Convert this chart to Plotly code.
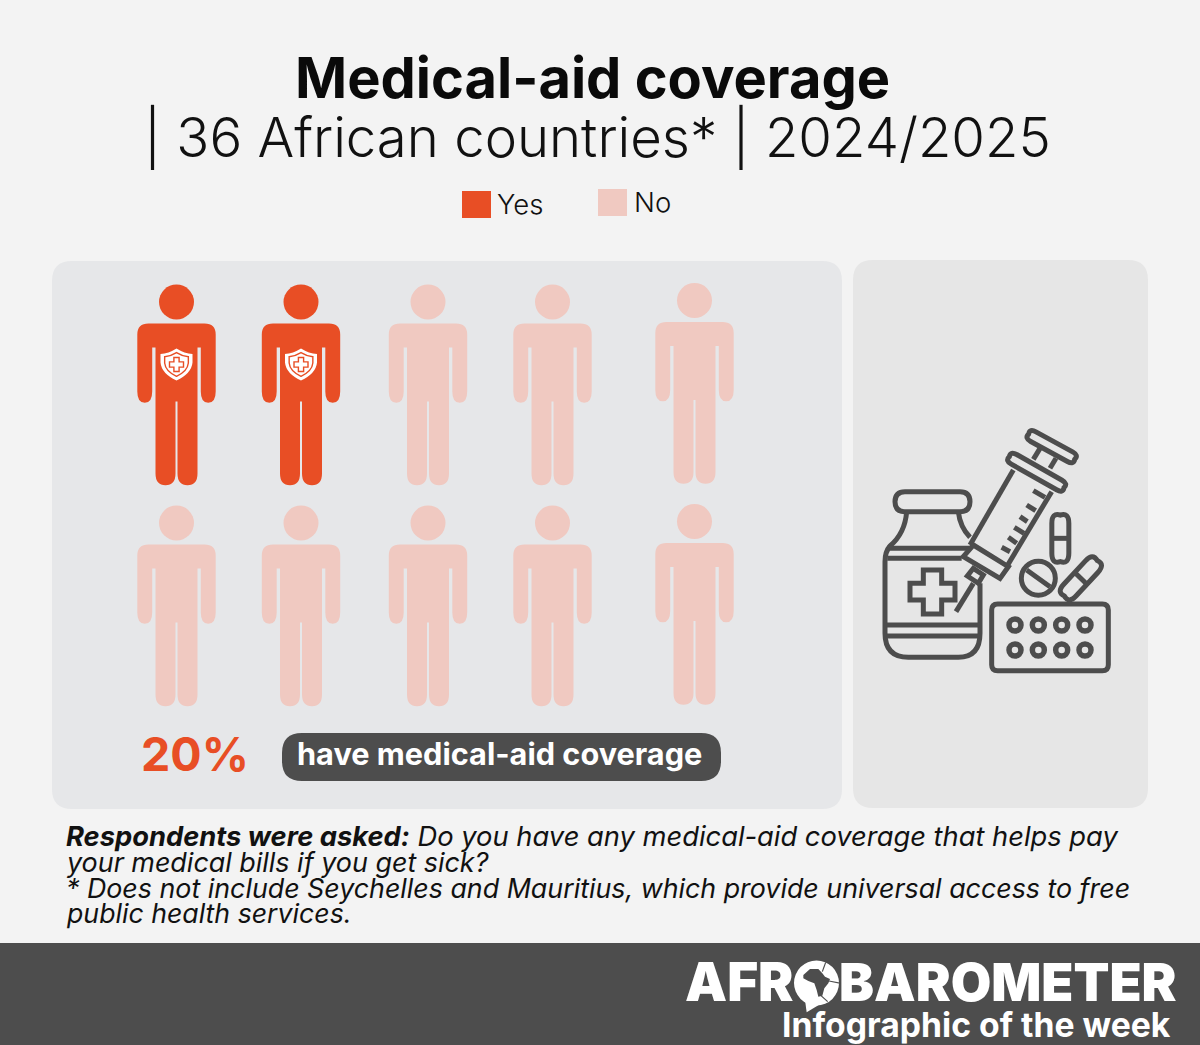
import plotly.graph_objects as go

# values
title = "Medical-aid coverage"
subtitle = "| 36 African countries* | 2024/2025"
legend_labels = ["Yes", "No"]
coverage_pct = 20
people_total = 10
pct_label = "have medical-aid coverage"
note_lines = [
    "<b>Respondents were asked:</b> Do you have any medical-aid coverage that helps pay",
    "your medical bills if you get sick?",
    "* Does not include Seychelles and Mauritius, which provide universal access to free",
    "public health services.",
]

BG = "#f3f3f3"
PANEL_L = "#e6e7e9"
PANEL_R = "#e6e6e6"
DARK = "#4d4d4d"
ORANGE = "#e84e25"
PALE = "#f0c9c1"
FONT = "Inter"
ICON_W = 5

shapes = []
annotations = []


def rounded(x0, y0, x1, y1, r):
    return (f"M {x0+r} {y0} H {x1-r} Q {x1} {y0} {x1} {y0+r} V {y1-r} Q {x1} {y1} {x1-r} {y1} "
            f"H {x0+r} Q {x0} {y1} {x0} {y1-r} V {y0+r} Q {x0} {y0} {x0+r} {y0} Z")


def add_path(path, fill=None, line=None, width=0):
    shapes.append(dict(type="path", path=path, fillcolor=fill or "rgba(0,0,0,0)",
                       line=dict(color=line or "rgba(0,0,0,0)", width=width), layer="above"))


def add_circle(cx, cy, r, fill=None, line=None, width=0):
    shapes.append(dict(type="circle", x0=cx-r, x1=cx+r, y0=cy-r, y1=cy+r,
                       fillcolor=fill or "rgba(0,0,0,0)",
                       line=dict(color=line or "rgba(0,0,0,0)", width=width), layer="above"))


def add_text(x, y, text, size, color="#111111", anchor="left", weight=400, italic=False):
    # annotations keep a small inner pad, take it back so x is the ink edge
    x = x + {"left": -3, "right": 3, "center": 0}[anchor]
    annotations.append(dict(x=x, y=y, text=text, showarrow=False, xanchor=anchor, yanchor="middle",
                            font=dict(family=FONT, size=size, color=color, weight=weight,
                                      style="italic" if italic else "normal")))


# person glyph, drawn around its centre line with y from the shoulder
def person(cx, y0, color):
    def p(dx, dy):
        return f"{cx+dx} {y0+dy}"
    add_circle(cx, y0 - 21.5, 17.5, fill=color)
    path = (f"M {p(-28,0)} L {p(28,0)} Q {p(39.2,0)} {p(39.2,11)} L {p(39.2,68)} "
            f"Q {p(39.2,79.3)} {p(31.7,79.3)} Q {p(24.3,79.3)} {p(24.3,68)} L {p(24.3,24)} L {p(21,24)} "
            f"L {p(21,150)} Q {p(21,161.7)} {p(11,161.7)} Q {p(1,161.7)} {p(1,150)} L {p(1,78)} "
            f"L {p(-1,78)} L {p(-1,150)} Q {p(-1,161.7)} {p(-11,161.7)} Q {p(-21,161.7)} {p(-21,150)} "
            f"L {p(-21,24)} L {p(-24.3,24)} L {p(-24.3,68)} Q {p(-24.3,79.3)} {p(-31.7,79.3)} "
            f"Q {p(-39.2,79.3)} {p(-39.2,68)} L {p(-39.2,11)} Q {p(-39.2,0)} {p(-28,0)} Z")
    add_path(path, fill=color)


def shield(cx, cy):
    def outline(s):
        def p(dx, dy):
            return f"{cx+dx*s} {cy+dy*s}"
        return (f"M {p(0,-16)} Q {p(8,-11)} {p(16,-10.5)} L {p(16,-2)} Q {p(15,9)} {p(0,16)} "
                f"Q {p(-15,9)} {p(-16,-2)} L {p(-16,-10.5)} Q {p(-8,-11)} {p(0,-16)} Z")
    add_path(outline(1), fill="white")
    add_path(outline(0.74), fill="white", line=ORANGE, width=1.4)
    a, b = 2.6, 7
    x, y = cx, cy
    cross = (f"M {x-a} {y-b} H {x+a} V {y-a} H {x+b} V {y+a} H {x+a} V {y+b} H {x-a} V {y+a} "
             f"H {x-b} V {y-a} H {x-a} Z")
    add_path(cross, fill="white", line=ORANGE, width=1.4)


def capsule(xa, ya, xb, yb, r):
    # rounded bar between two points, used by the medicine icon
    dx, dy = xb - xa, yb - ya
    n = (dx**2 + dy**2) ** 0.5
    ux, uy = dx / n, dy / n
    nx, ny = -uy * r, ux * r
    ex, ey = ux * r * 1.3, uy * r * 1.3
    return (f"M {xa+nx} {ya+ny} L {xb+nx} {yb+ny} Q {xb+nx+ex} {yb+ny+ey} {xb+ex*0.75} {yb+ey*0.75} "
            f"Q {xb-nx+ex} {yb-ny+ey} {xb-nx} {yb-ny} L {xa-nx} {ya-ny} "
            f"Q {xa-nx-ex} {ya-ny-ey} {xa-ex*0.75} {ya-ey*0.75} Q {xa+nx-ex} {ya+ny-ey} {xa+nx} {ya+ny} Z")


# background blocks
shapes.append(dict(type="rect", x0=0, x1=1200, y0=943, y1=1045, fillcolor=DARK, line_width=0, layer="below"))
add_path(rounded(52, 261, 842, 809, 20), fill=PANEL_L)
add_path(rounded(853, 260, 1148, 808, 20), fill=PANEL_R)

# title and legend
add_text(592.5, 78, title, 56, color="#0a0a0a", anchor="center", weight=700)
add_text(597.5, 137, subtitle, 54.5, anchor="center", weight=300)
shapes.append(dict(type="rect", x0=462, x1=491, y0=191, y1=218, fillcolor=ORANGE, line_width=0, layer="above"))
shapes.append(dict(type="rect", x0=598, x1=627, y0=189, y1=216, fillcolor=PALE, line_width=0, layer="above"))
add_text(498, 204, legend_labels[0], 27.5, weight=300)
add_text(635, 202, legend_labels[1], 27.5, weight=300)

# pictogram grid, two rows of five
col_x = [176.5, 301, 428, 552.5, 694.5]
row_y = [323.5, 544.5]
col_nudge = [0, 0, 0, 0, -1.5]
people_yes = round(coverage_pct / 100 * people_total)
idx = 0
for ry in row_y:
    for cx, nudge in zip(col_x, col_nudge):
        is_yes = idx < people_yes
        person(cx, ry + nudge, ORANGE if is_yes else PALE)
        if is_yes:
            shield(cx, ry + nudge + 41)
        idx += 1

# callout
add_text(195, 754, f"{coverage_pct}%", 46.5, color=ORANGE, anchor="center", weight=700)
add_path(rounded(282, 733, 721, 781, 20), fill=DARK)
add_text(499.5, 753, pct_label, 30.7, color="white", anchor="center", weight=700)

# notes, Inter runs a bit differently from the original face so each line gets its own size
note_sizes = [27.3, 26.9, 26.8, 26.7]
for line, y, size in zip(note_lines, [836.5, 862, 887.5, 913], note_sizes):
    add_text(67, y, line, size, color="#111111", italic=True)


# medicine icon, coordinates in the icon's own 3x frame
def ic(x, y):
    return f"{870 + x / 3} {420 + y / 3}"


def icon_line(pts, closed=False):
    d = "M " + " L ".join(ic(x, y) for x, y in pts)
    add_path(d + (" Z" if closed else ""), line=DARK, width=ICON_W)


def to_icon(x, y):
    return 870 + x / 3, 420 + y / 3


lx0, ly0 = to_icon(75, 215)
lx1, ly1 = to_icon(300, 275)
add_path(rounded(lx0, ly0, lx1, ly1, 10), line=DARK, width=ICON_W)
add_path(f"M {ic(110,275)} Q {ic(105,340)} {ic(60,378)} Q {ic(45,395)} {ic(45,425)} L {ic(45,640)} "
         f"Q {ic(45,712)} {ic(115,712)} L {ic(265,712)} Q {ic(330,712)} {ic(330,640)} L {ic(330,490)}",
         line=DARK, width=ICON_W)
add_path(f"M {ic(265,275)} Q {ic(270,320)} {ic(300,352)}", line=DARK, width=ICON_W)
icon_line([(52, 385), (298, 385)])
icon_line([(52, 415), (275, 415)])
icon_line([(50, 615), (330, 615)])
icon_line([(50, 648), (330, 648)])
icon_line([(160, 450), (215, 450), (215, 490), (255, 490), (255, 540), (215, 540), (215, 582),
           (160, 582), (160, 540), (120, 540), (120, 490), (160, 490)], closed=True)

# syringe
icon_line([(430, 150), (300, 375)])
icon_line([(545, 215), (410, 440)])
icon_line([(310, 375), (415, 440), (390, 475), (280, 410)], closed=True)
icon_line([(310, 445), (340, 465), (325, 490), (292, 468)], closed=True)
icon_line([(310, 490), (258, 575)])
ax0, ay0 = to_icon(432, 118)
ax1, ay1 = to_icon(568, 195)
add_path(capsule(ax0, ay0, ax1, ay1, 5.5), line=DARK, width=ICON_W)
ax0, ay0 = to_icon(490, 50)
ax1, ay1 = to_icon(600, 110)
add_path(capsule(ax0, ay0, ax1, ay1, 5.5), line=DARK, width=ICON_W)
icon_line([(510, 85), (490, 118)])
icon_line([(558, 115), (540, 145)])
for a, b in [((525, 232), (490, 212)), ((497, 272), (470, 255)), ((472, 305), (450, 290)),
             ((462, 340), (433, 322)), ((440, 370), (415, 352)), ((420, 395), (395, 382))]:
    icon_line([a, b])

# pills
ax0, ay0 = to_icon(571, 310)
ax1, ay1 = to_icon(571, 400)
add_path(capsule(ax0, ay0, ax1, ay1, 8.5), line=DARK, width=ICON_W)
icon_line([(545, 355), (597, 355)])
cx, cy = to_icon(505, 475)
add_circle(cx, cy, 17, line=DARK, width=ICON_W)
icon_line([(470, 450), (540, 500)])
ax0, ay0 = to_icon(600, 510)
ax1, ay1 = to_icon(665, 440)
add_path(capsule(ax0, ay0, ax1, ay1, 8.5), line=DARK, width=ICON_W)
icon_line([(612, 455), (650, 492)])
bx0, by0 = to_icon(365, 552)
bx1, by1 = to_icon(715, 752)
add_path(rounded(bx0, by0, bx1, by1, 6), line=DARK, width=ICON_W)
for bx in [435, 505, 575, 645]:
    for by in [615, 690]:
        cx, cy = to_icon(bx, by)
        add_circle(cx, cy, 6, line=DARK, width=5.5)


# footer wordmark, the O is the speech-bubble logo
def lg(x, y):
    return f"{785 + x / 3} {955 + y / 3}"


add_text(686, 982, "AFR", 53, color="white", weight=900)
add_text(840, 982, "BAROMETER", 52.4, color="white", weight=900)
add_circle(816.5, 983, 22.5, fill="white")
add_path(f"M {lg(60,135)} L {lg(65,172)} L {lg(105,148)} Z", fill="white")
africa = [(55, 60), (75, 42), (100, 42), (112, 55), (120, 65), (135, 72), (130, 85), (118, 100),
          (112, 122), (100, 125), (95, 105), (88, 85), (70, 78), (55, 70)]
add_path("M " + " L ".join(lg(x, y) for x, y in africa) + " Z", fill=DARK)
for a, b in [((122, 22), (112, 50)), ((132, 78), (168, 85)), ((108, 122), (128, 140))]:
    add_path(f"M {lg(*a)} L {lg(*b)}", line=DARK, width=1.2)
add_text(1170, 1024, "Infographic of the week", 33.7, color="white", anchor="right", weight=700)

fig = go.Figure()
fig.update_layout(
    width=1200,
    height=1045,
    margin=dict(l=0, r=0, t=0, b=0),
    paper_bgcolor=BG,
    plot_bgcolor=BG,
    showlegend=False,
    xaxis=dict(range=[0, 1200], visible=False, fixedrange=True),
    yaxis=dict(range=[1045, 0], visible=False, fixedrange=True),
    shapes=shapes,
    annotations=annotations,
)

# the page's default body margin would push everything 8px off
fig.write_html("out.html", config={"displayModeBar": False},
               post_script="document.body.style.margin='0';")
